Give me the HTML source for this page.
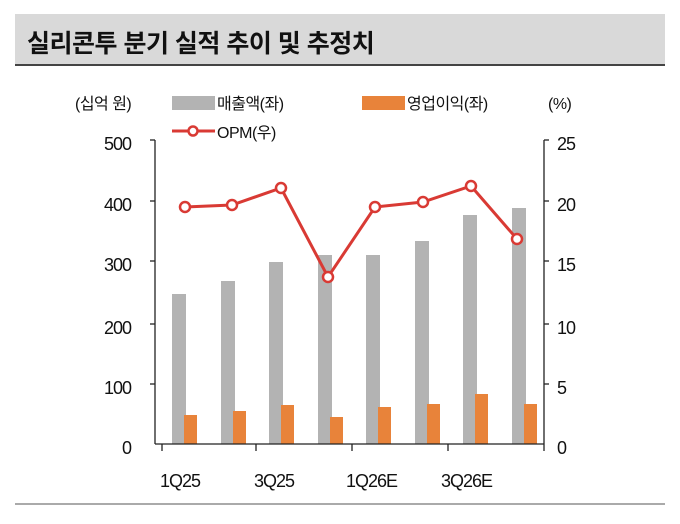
<!DOCTYPE html>
<html><head><meta charset="utf-8"><style>
body{margin:0;background:#fff;width:680px;height:519px;overflow:hidden;font-family:"Liberation Sans","Noto Sans CJK KR",sans-serif}
</style></head><body>
<svg width="680" height="519" xmlns="http://www.w3.org/2000/svg" font-family="Liberation Sans, Noto Sans CJK KR, sans-serif">
<rect x="15" y="14" width="650" height="50" fill="#d9d9d9"/>
<rect x="15" y="64" width="650" height="2" fill="#444"/>
<text x="27" y="52" font-size="25" font-weight="bold" fill="#111" letter-spacing="-0.5">실리콘투 분기 실적 추이 및 추정치</text>
<rect x="15" y="503" width="650" height="2" fill="#aaa"/>
<g font-size="16" fill="#111" letter-spacing="-0.5">
<text x="75" y="109">(십억 원)</text>
<rect x="172" y="96" width="43" height="14" fill="#b3b3b3"/>
<text x="217" y="109">매출액(좌)</text>
<rect x="362" y="96" width="43" height="14" fill="#e8833a"/>
<text x="407" y="109">영업이익(좌)</text>
<text x="548" y="109">(%)</text>
<line x1="172" y1="131" x2="215" y2="131" stroke="#d93a34" stroke-width="3"/>
<circle cx="193" cy="131" r="4.5" fill="#fff" stroke="#d93a34" stroke-width="2.5"/>
<text x="217" y="138">OPM(우)</text>
</g>
<g font-size="18" fill="#111" text-anchor="end" letter-spacing="-1">
<text x="131" y="150">500</text><text x="131" y="211">400</text><text x="131" y="271">300</text><text x="131" y="334">200</text><text x="131" y="394">100</text><text x="131" y="454">0</text>
</g>
<g font-size="18" fill="#111" letter-spacing="-1">
<text x="557" y="150">25</text><text x="557" y="211">20</text><text x="557" y="271">15</text><text x="557" y="334">10</text><text x="557" y="394">5</text><text x="557" y="454">0</text>
</g>
<g fill="#b3b3b3">
<rect x="172" y="294" width="14" height="150"/>
<rect x="221" y="281" width="14" height="163"/>
<rect x="269" y="262" width="14" height="182"/>
<rect x="318" y="255" width="14" height="189"/>
<rect x="366" y="255" width="14" height="189"/>
<rect x="415" y="241" width="14" height="203"/>
<rect x="463" y="215" width="14" height="229"/>
<rect x="512" y="208" width="14" height="236"/>
</g>
<g fill="#e8833a">
<rect x="184" y="415" width="13" height="29"/>
<rect x="233" y="411" width="13" height="33"/>
<rect x="281" y="405" width="13" height="39"/>
<rect x="330" y="417" width="13" height="27"/>
<rect x="378" y="407" width="13" height="37"/>
<rect x="427" y="404" width="13" height="40"/>
<rect x="475" y="394" width="13" height="50"/>
<rect x="524" y="404" width="13" height="40"/>
</g>
<g stroke="#222" stroke-width="1.3" fill="none">
<line x1="155" y1="140" x2="155" y2="444"/>
<line x1="544" y1="140" x2="544" y2="444"/>
<line x1="155" y1="444" x2="544" y2="444"/>
<line x1="150" y1="140" x2="155" y2="140"/><line x1="150" y1="201" x2="155" y2="201"/><line x1="150" y1="261" x2="155" y2="261"/><line x1="150" y1="324" x2="155" y2="324"/><line x1="150" y1="384" x2="155" y2="384"/>
<line x1="544" y1="140" x2="549" y2="140"/><line x1="544" y1="201" x2="549" y2="201"/><line x1="544" y1="261" x2="549" y2="261"/><line x1="544" y1="324" x2="549" y2="324"/><line x1="544" y1="384" x2="549" y2="384"/>
<line x1="162" y1="444" x2="162" y2="451"/><line x1="256" y1="444" x2="256" y2="451"/><line x1="352" y1="444" x2="352" y2="451"/><line x1="448" y1="444" x2="448" y2="451"/><line x1="544" y1="444" x2="544" y2="451"/>
</g>
<polyline points="185,207 232,205 281,188 328,277 375,207 423,202 471,186 517,239" fill="none" stroke="#d93a34" stroke-width="3"/>
<g fill="#fff" stroke="#d93a34" stroke-width="2.5">
<circle cx="185" cy="207" r="5"/><circle cx="232" cy="205" r="5"/><circle cx="281" cy="188" r="5"/><circle cx="328" cy="277" r="5"/><circle cx="375" cy="207" r="5"/><circle cx="423" cy="202" r="5"/><circle cx="471" cy="186" r="5"/><circle cx="517" cy="239" r="5"/>
</g>
<g font-size="18" fill="#111" letter-spacing="-1">
<text x="160" y="487">1Q25</text><text x="254" y="487">3Q25</text><text x="346" y="487">1Q26E</text><text x="441" y="487">3Q26E</text>
</g>
</svg>
</body></html>
